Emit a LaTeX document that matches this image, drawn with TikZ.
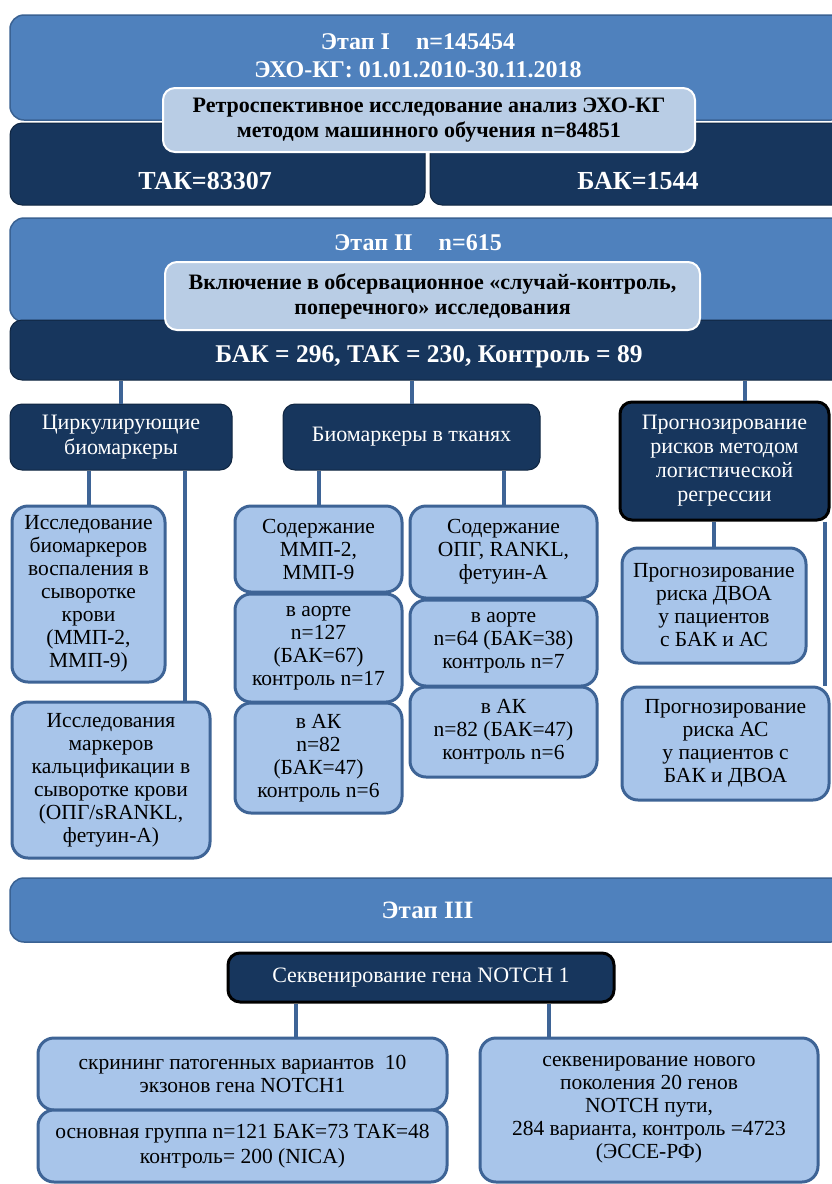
\documentclass[tikz,border=0pt]{standalone}
\usepackage{fontspec}
\setmainfont{Liberation Serif}
\definecolor{stageblue}{HTML}{4F81BD}
\definecolor{stageline}{HTML}{3A6293}
\definecolor{darkblue}{HTML}{17365D}
\definecolor{paleblue}{HTML}{B9CDE5}
\definecolor{boxblue}{HTML}{A8C5EA}
\definecolor{boxline}{HTML}{3E6496}

\begin{document}
\begin{tikzpicture}[x=1pt,y=-1pt]
    \tikzstyle{ann} = [draw=none,fill=none,text=white,align=center,font=\bfseries\fontsize{24}{28}\selectfont]
    \tikzstyle{stage} = [draw=stageline,line width=1.5pt,fill=stageblue,rounded corners=14pt,inner sep=0pt]
    \tikzstyle{dark} = [draw=darkblue!70!black,line width=1pt,fill=darkblue,rounded corners=12pt,text=white,align=center,inner sep=0pt,font=\fontsize{22}{24}\selectfont]
    \tikzstyle{pale} = [draw=white,line width=2pt,fill=paleblue,rounded corners=12pt,align=center,inner sep=0pt,font=\bfseries\fontsize{22}{25}\selectfont]
    \tikzstyle{box} = [draw=boxline,line width=3pt,fill=boxblue,rounded corners=16pt,align=center,inner sep=0pt,font=\fontsize{21.5}{23}\selectfont]
    \tikzstyle{link} = [draw=boxline,line width=4pt]

    \useasboundingbox[fill=white] (0,0) rectangle (831,1184);

    \node[stage, minimum width=835pt, minimum height=105pt] (1) at (427.5,67.5) {};
    \node[dark, minimum width=415pt, minimum height=82pt] (2) at (217.5,164) {};
    \node[dark, minimum width=415pt, minimum height=82pt] (3) at (637.5,164) {};
    \node[pale, minimum width=532pt, minimum height=64pt] (4) at (429,120) {Ретроспективное исследование анализ ЭХО-КГ\\методом машинного обучения n=84851};
    \node[ann] (1a) at (418,56) {Этап I\hspace{26pt}n=145454\\ЭХО-КГ: 01.01.2010-30.11.2018};
    \node[ann, font=\bfseries\fontsize{26}{28}\selectfont] (2a) at (205,181) {ТАК=83307};
    \node[ann, font=\bfseries\fontsize{26}{28}\selectfont] (3a) at (638,181) {БАК=1544};

    \node[stage, minimum width=835pt, minimum height=104pt] (5) at (427.5,270) {};
    \node[dark, minimum width=835pt, minimum height=60pt] (6) at (427.5,350) {};
    \node[pale, minimum width=535pt, minimum height=68pt] (7) at (432.5,296) {Включение в обсервационное «случай-контроль,\\поперечного» исследования};
    \node[ann] (5a) at (418,243) {Этап II\hspace{26pt}n=615};
    \node[ann, font=\bfseries\fontsize{25.5}{28}\selectfont] (6a) at (429,357) {БАК = 296, ТАК = 230, Контроль = 89};

    \node[dark, minimum width=222pt, minimum height=66pt, font=\fontsize{22}{25}\selectfont] (8) at (121,437) {Циркулирующие\\биомаркеры};
    \node[dark, minimum width=257pt, minimum height=66pt] (9) at (411.5,437) {Биомаркеры в тканях};
    \node[dark, draw=black, line width=3pt, minimum width=209pt, minimum height=118pt] (10) at (724.5,461) {Прогнозирование\\рисков методом\\логистической\\регрессии};

    \node[box, minimum width=153pt, minimum height=176pt] (11) at (88.5,594) {Исследование\\биомаркеров\\воспаления в\\сыворотке\\крови\\(ММП-2,\\ММП-9)};
    \node[box, minimum width=198pt, minimum height=156pt] (12) at (111,780) {Исследования\\маркеров\\кальцификации в\\сыворотке крови\\(ОПГ/sRANKL,\\фетуин-А)};

    \node[box, minimum width=167pt, minimum height=86pt] (13) at (318.5,549) {Содержание\\ММП-2,\\ММП-9};
    \node[box, minimum width=167pt, minimum height=108pt] (14) at (318.5,648) {в аорте\\n=127\\(БАК=67)\\контроль n=17};
    \node[box, minimum width=167pt, minimum height=110pt] (15) at (318.5,758) {в АК\\n=82\\(БАК=47)\\контроль n=6};

    \node[box, minimum width=187pt, minimum height=92pt] (16) at (503.5,552) {Содержание\\ОПГ, RANKL,\\фетуин-А};
    \node[box, minimum width=187pt, minimum height=86pt] (17) at (503.5,643) {в аорте\\n=64 (БАК=38)\\контроль n=7};
    \node[box, minimum width=187pt, minimum height=90pt] (18) at (503.5,732) {в АК\\n=82 (БАК=47)\\контроль n=6};

    \node[box, minimum width=184pt, minimum height=115pt] (19) at (714,605.5) {Прогнозирование\\риска ДВОА\\у пациентов\\с БАК и АС};
    \node[box, minimum width=207pt, minimum height=113pt] (20) at (725.5,743.5) {Прогнозирование\\риска АС\\у пациентов с\\БАК и ДВОА};

    \node[stage, minimum width=835pt, minimum height=64pt, text=white, font=\bfseries\fontsize{25}{28}\selectfont] (21) at (427.5,910) {Этап III};
    \node[dark, draw=black, line width=3pt, minimum width=386pt, minimum height=49pt] (22) at (421,977.5) {Секвенирование гена NOTCH 1};
    \node[box, minimum width=409pt, minimum height=72pt] (23) at (242.5,1074) {скрининг патогенных вариантов\ \ 10\\экзонов гена NOTCH1};
    \node[box, minimum width=409pt, minimum height=72pt, font=\fontsize{21.5}{25}\selectfont] (24) at (242.5,1146) {основная группа n=121 БАК=73 ТАК=48\\контроль= 200 (NICA)};
    \node[box, minimum width=338pt, minimum height=144pt] (25) at (649,1110) {секвенирование нового\\поколения 20 генов\\NOTCH пути,\\284 варианта, контроль =4723\\(ЭССЕ-РФ)};

    \coordinate (c1) at (185,0);
    \coordinate (c2) at (745,0);
    \coordinate (c3) at (825,0);
    \coordinate (c4) at (296,0);
    \coordinate (c5) at (549,0);

    \draw[link]  (6.south -| 8.north) edge node{} (8.north);
    \draw[link]  (6.south -| 9.north) edge node{} (9.north);
    \draw[link]  (6.south -| c2) edge node{} (10.north -| c2);
    \draw[link]  (8.south -| 11.north) edge node{} (11.north);
    \draw[link]  (8.south -| c1) edge node{} (12.north -| c1);
    \draw[link]  (9.south -| 13.north) edge node{} (13.north);
    \draw[link]  (9.south -| 16.north) edge node{} (16.north);
    \draw[link]  (10.south -| 19.north) edge node{} (19.north);
    \draw[link]  (10.south -| c3) edge node{} (20.north -| c3);
    \draw[link]  (22.south -| c4) edge node{} (23.north -| c4);
    \draw[link]  (22.south -| c5) edge node{} (25.north -| c5);

\end{tikzpicture}
\end{document}
